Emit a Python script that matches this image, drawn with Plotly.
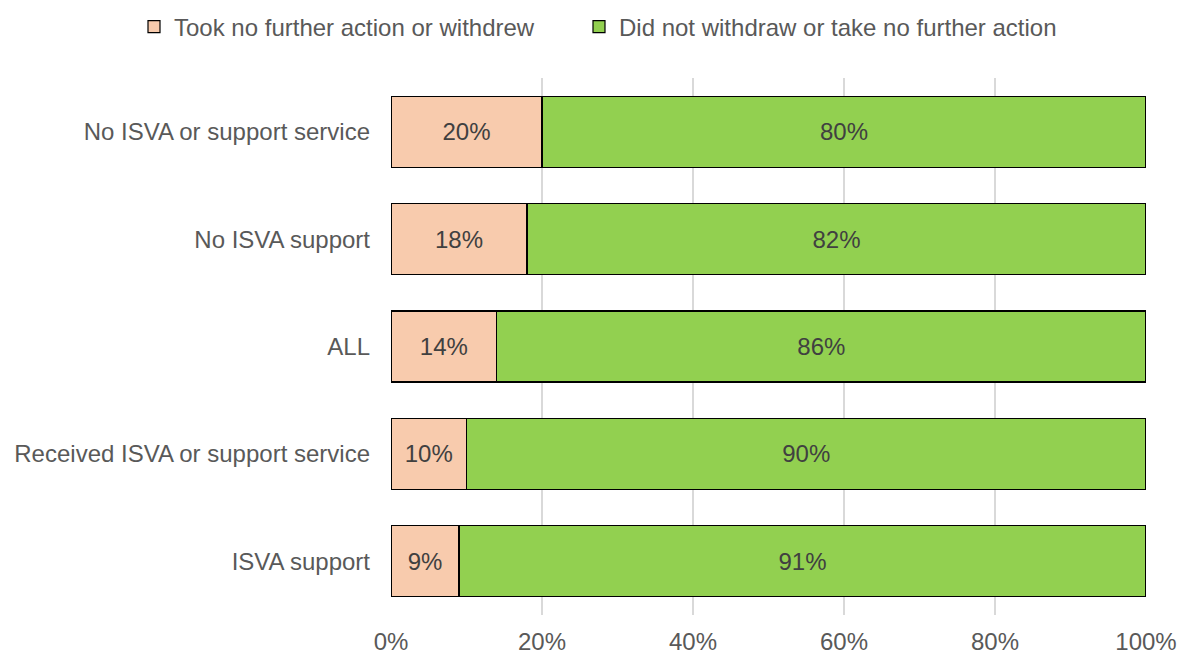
import plotly.graph_objects as go

# Support categories, listed top to bottom
categories = [
    "No ISVA or support service",
    "No ISVA support",
    "ALL",
    "Received ISVA or support service",
    "ISVA support",
]
# Share of cases (%) by outcome
took_no_further_action = [20, 18, 14, 10, 9]
did_not_withdraw = [80, 82, 86, 90, 91]
x_ticks = [0, 20, 40, 60, 80, 100]

FONT = "Liberation Sans, Arial, sans-serif"
TEXT_COLOR = "#595959"
FS = 24

fig = go.Figure()
fig.add_trace(go.Bar(
    y=categories, x=took_no_further_action, orientation="h",
    name="Took no further action or withdrew",
    marker=dict(color="#F8CBAD", line=dict(color="#000000", width=1.2)),
    text=[f"{v}%" for v in took_no_further_action],
    textposition="inside", insidetextanchor="middle",
    textfont=dict(color="#404040", size=FS, family=FONT),
    hoverinfo="skip",
    showlegend=True,
    legend="legend",
))
fig.add_trace(go.Bar(
    y=categories, x=did_not_withdraw, orientation="h",
    name="Did not withdraw or take no further action",
    marker=dict(color="#92D050", line=dict(color="#000000", width=1.2)),
    text=[f"{v}%" for v in did_not_withdraw],
    textposition="inside", insidetextanchor="middle",
    textfont=dict(color="#404040", size=FS, family=FONT),
    hoverinfo="skip",
    showlegend=True,
    legend="legend2",
))

legend_style = dict(
    orientation="h",
    xanchor="left",
    yref="paper", y=1.095, yanchor="middle",
    font=dict(size=FS, color=TEXT_COLOR, family=FONT),
    bgcolor="rgba(0,0,0,0)",
)

fig.update_layout(
    showlegend=True,
    barmode="stack",
    bargap=0.34,
    width=1179, height=655,
    margin=dict(l=391, r=33, t=78, b=40, autoexpand=False),
    paper_bgcolor="white", plot_bgcolor="white",
    font=dict(family=FONT, size=FS, color=TEXT_COLOR),
    uniformtext=dict(minsize=FS, mode="show"),
    legend=dict(x=-0.3404, **legend_style),
    legend2=dict(x=0.249, **legend_style),
    xaxis=dict(
        range=[0, 100],
        tickvals=x_ticks,
        ticktext=[f"{t}%" for t in x_ticks],
        showgrid=True, gridcolor="#D9D9D9", gridwidth=1.5,
        zeroline=False, showline=False,
        ticks="", ticklabelstandoff=10, automargin=False,
        tickfont=dict(size=FS, color=TEXT_COLOR),
    ),
    yaxis=dict(
        autorange="reversed",
        showgrid=False, zeroline=False, showline=False,
        ticks="", ticklabelstandoff=20, automargin=False,
        tickfont=dict(size=FS, color=TEXT_COLOR),
    ),
)

fig.write_html("out.html")
